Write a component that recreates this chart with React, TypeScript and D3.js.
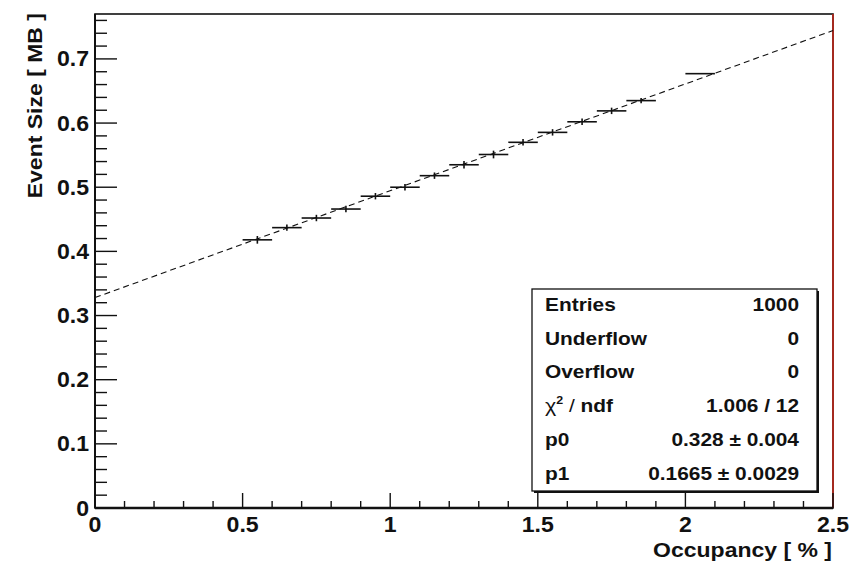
import React from "react"
import * as d3 from "d3"

// ── Data ───────────────────────────────────────────────────────────────────────

const binCenters = [
  0.55, 0.65, 0.75, 0.85, 0.95, 1.05, 1.15, 1.25, 1.35, 1.45, 1.55, 1.65, 1.75,
  1.85, 2.05,
]
const binMeans = [
  0.418, 0.437, 0.452, 0.466, 0.486, 0.5, 0.518, 0.535, 0.551, 0.57, 0.5855,
  0.602, 0.619, 0.635, 0.677,
]
const binErrors = [
  0.006, 0.005, 0.005, 0.005, 0.005, 0.005, 0.005, 0.006, 0.006, 0.005, 0.005,
  0.005, 0.005, 0.004, 0,
]
const binHalfWidth = 0.05

const fitP0 = 0.328
const fitP1 = 0.1665

const xTicks = [0, 0.5, 1, 1.5, 2, 2.5]
const yTicks = [0, 0.1, 0.2, 0.3, 0.4, 0.5, 0.6, 0.7]

const statLabels = ["Entries", "Underflow", "Overflow", "chi2", "p0", "p1"]
const statValues = [
  "1000",
  "0",
  "0",
  "1.006 / 12",
  "0.328 \u00b1 0.004",
  "0.1665 \u00b1 0.0029",
]

// ── Layout ─────────────────────────────────────────────────────────────────────

const W = 857
const H = 561
const frame = { left: 95, right: 833, top: 14, bottom: 508 }
const FONT = "'Liberation Sans', Arial, Helvetica, sans-serif"

export default function App() {
  const x = d3.scaleLinear().domain([0, 2.5]).range([frame.left, frame.right])
  const y = d3.scaleLinear().domain([0, 0.77]).range([frame.bottom, frame.top])

  const xMinor = d3.range(0, 2.5001, 0.1)
  const yMinor = d3.range(0, 0.7701, 0.02)

  const fitLine = d3
    .line<number>()
    .x(d => x(d))
    .y(d => y(fitP0 + fitP1 * d))([0, 2.5])

  const box = { x: 532, y: 289, w: 285, h: 202 }
  const rowH = 33.7

  return (
    <div style={{ position: "absolute", left: 0, top: 0 }}>
      <svg width={W} height={H} style={{ display: "block", background: "#fff" }}>
        <rect x={0} y={0} width={W} height={H} fill="#fff" />

        {/* Frame */}
        <rect
          x={frame.left}
          y={frame.top}
          width={frame.right - frame.left}
          height={frame.bottom - frame.top}
          fill="none"
          stroke="#111"
          strokeWidth={1.6}
        />
        <line
          x1={x(2.5)}
          x2={x(2.5)}
          y1={frame.top}
          y2={frame.bottom}
          stroke="#b0281c"
          strokeWidth={1.8}
        />

        {/* Fit line */}
        <path
          d={fitLine ?? ""}
          fill="none"
          stroke="#111"
          strokeWidth={1.1}
          strokeDasharray="6 4"
        />

        {/* Profile points */}
        {binCenters.map((c, i) => (
          <g key={i} stroke="#111" strokeWidth={1.6}>
            <line
              x1={x(c - binHalfWidth)}
              x2={x(c + binHalfWidth)}
              y1={y(binMeans[i])}
              y2={y(binMeans[i])}
            />
            {binErrors[i] > 0 && (
              <line
                x1={x(c)}
                x2={x(c)}
                y1={y(binMeans[i] - binErrors[i])}
                y2={y(binMeans[i] + binErrors[i])}
              />
            )}
          </g>
        ))}

        {/* Y axis ticks */}
        {yMinor.map((t, i) => (
          <line
            key={`ym${i}`}
            x1={frame.left}
            x2={frame.left + (i % 5 === 0 ? 22 : 12)}
            y1={y(t)}
            y2={y(t)}
            stroke="#111"
            strokeWidth={1.4}
          />
        ))}
        {/* X axis ticks */}
        {xMinor.map((t, i) => (
          <line
            key={`xm${i}`}
            x1={x(t)}
            x2={x(t)}
            y1={frame.bottom}
            y2={frame.bottom - (i % 5 === 0 ? 15 : 7)}
            stroke="#111"
            strokeWidth={1.4}
          />
        ))}

        {/* Axis lines */}
        <line
          x1={frame.left}
          x2={frame.left}
          y1={frame.top}
          y2={frame.bottom}
          stroke="#111"
          strokeWidth={2}
        />
        <line
          x1={frame.left}
          x2={frame.right}
          y1={frame.bottom}
          y2={frame.bottom}
          stroke="#111"
          strokeWidth={2.6}
        />

        {/* Tick labels */}
        {yTicks.map(t => (
          <text
            key={`yl${t}`}
            transform={`translate(${frame.left - 6},${y(t) + 7.5}) scale(1.05,1)`}
            textAnchor="end"
            fontFamily={FONT}
            fontWeight="bold"
            fontSize={22}
            fill="#111"
          >
            {t === 0 ? "0" : d3.format(".1f")(t)}
          </text>
        ))}
        {xTicks.map(t => (
          <text
            key={`xl${t}`}
            transform={`translate(${x(t)},${frame.bottom + 23.5}) scale(1.05,1)`}
            textAnchor="middle"
            fontFamily={FONT}
            fontWeight="bold"
            fontSize={22}
            fill="#111"
          >
            {t === 0 ? "0" : d3.format("")(t)}
          </text>
        ))}

        {/* Axis titles */}
        <text
          transform={`translate(42,${frame.top - 1}) rotate(-90) scale(1.15,1)`}
          textAnchor="end"
          fontFamily={FONT}
          fontWeight="bold"
          fontSize={20}
          fill="#111"
        >
          Event Size [ MB ]
        </text>
        <text
          transform={`translate(${frame.right - 1},557) scale(1.15,1)`}
          textAnchor="end"
          fontFamily={FONT}
          fontWeight="bold"
          fontSize={20}
          fill="#111"
        >
          Occupancy [ % ]
        </text>

        {/* Stats box */}
        <rect
          x={box.x + 2}
          y={box.y + 2}
          width={box.w}
          height={box.h}
          fill="#111"
        />
        <rect
          x={box.x}
          y={box.y}
          width={box.w}
          height={box.h}
          fill="#fff"
          stroke="#111"
          strokeWidth={1.3}
        />
        {statLabels.map((lab, i) => {
          const by = box.y + 22 + i * rowH
          return (
            <g key={lab} fontFamily={FONT} fill="#111" fontSize={18.5}>
              <text
                transform={`translate(${box.x + 13},${by}) scale(1.13,1)`}
                fontWeight="bold"
              >
                {lab === "chi2" ? (
                  <>
                    <tspan fontWeight="normal" fontSize={19}>
                      {"\u03c7"}
                    </tspan>
                    <tspan fontSize={11} dy={-8}>
                      2
                    </tspan>
                    <tspan dy={8} fontWeight="normal">
                      {" / "}
                    </tspan>
                    <tspan>ndf</tspan>
                  </>
                ) : (
                  lab
                )}
              </text>
              <text
                transform={`translate(${box.x + box.w - 18},${by}) scale(1.13,1)`}
                textAnchor="end"
                fontWeight="bold"
              >
                {statValues[i]}
              </text>
            </g>
          )
        })}
      </svg>
    </div>
  )
}
